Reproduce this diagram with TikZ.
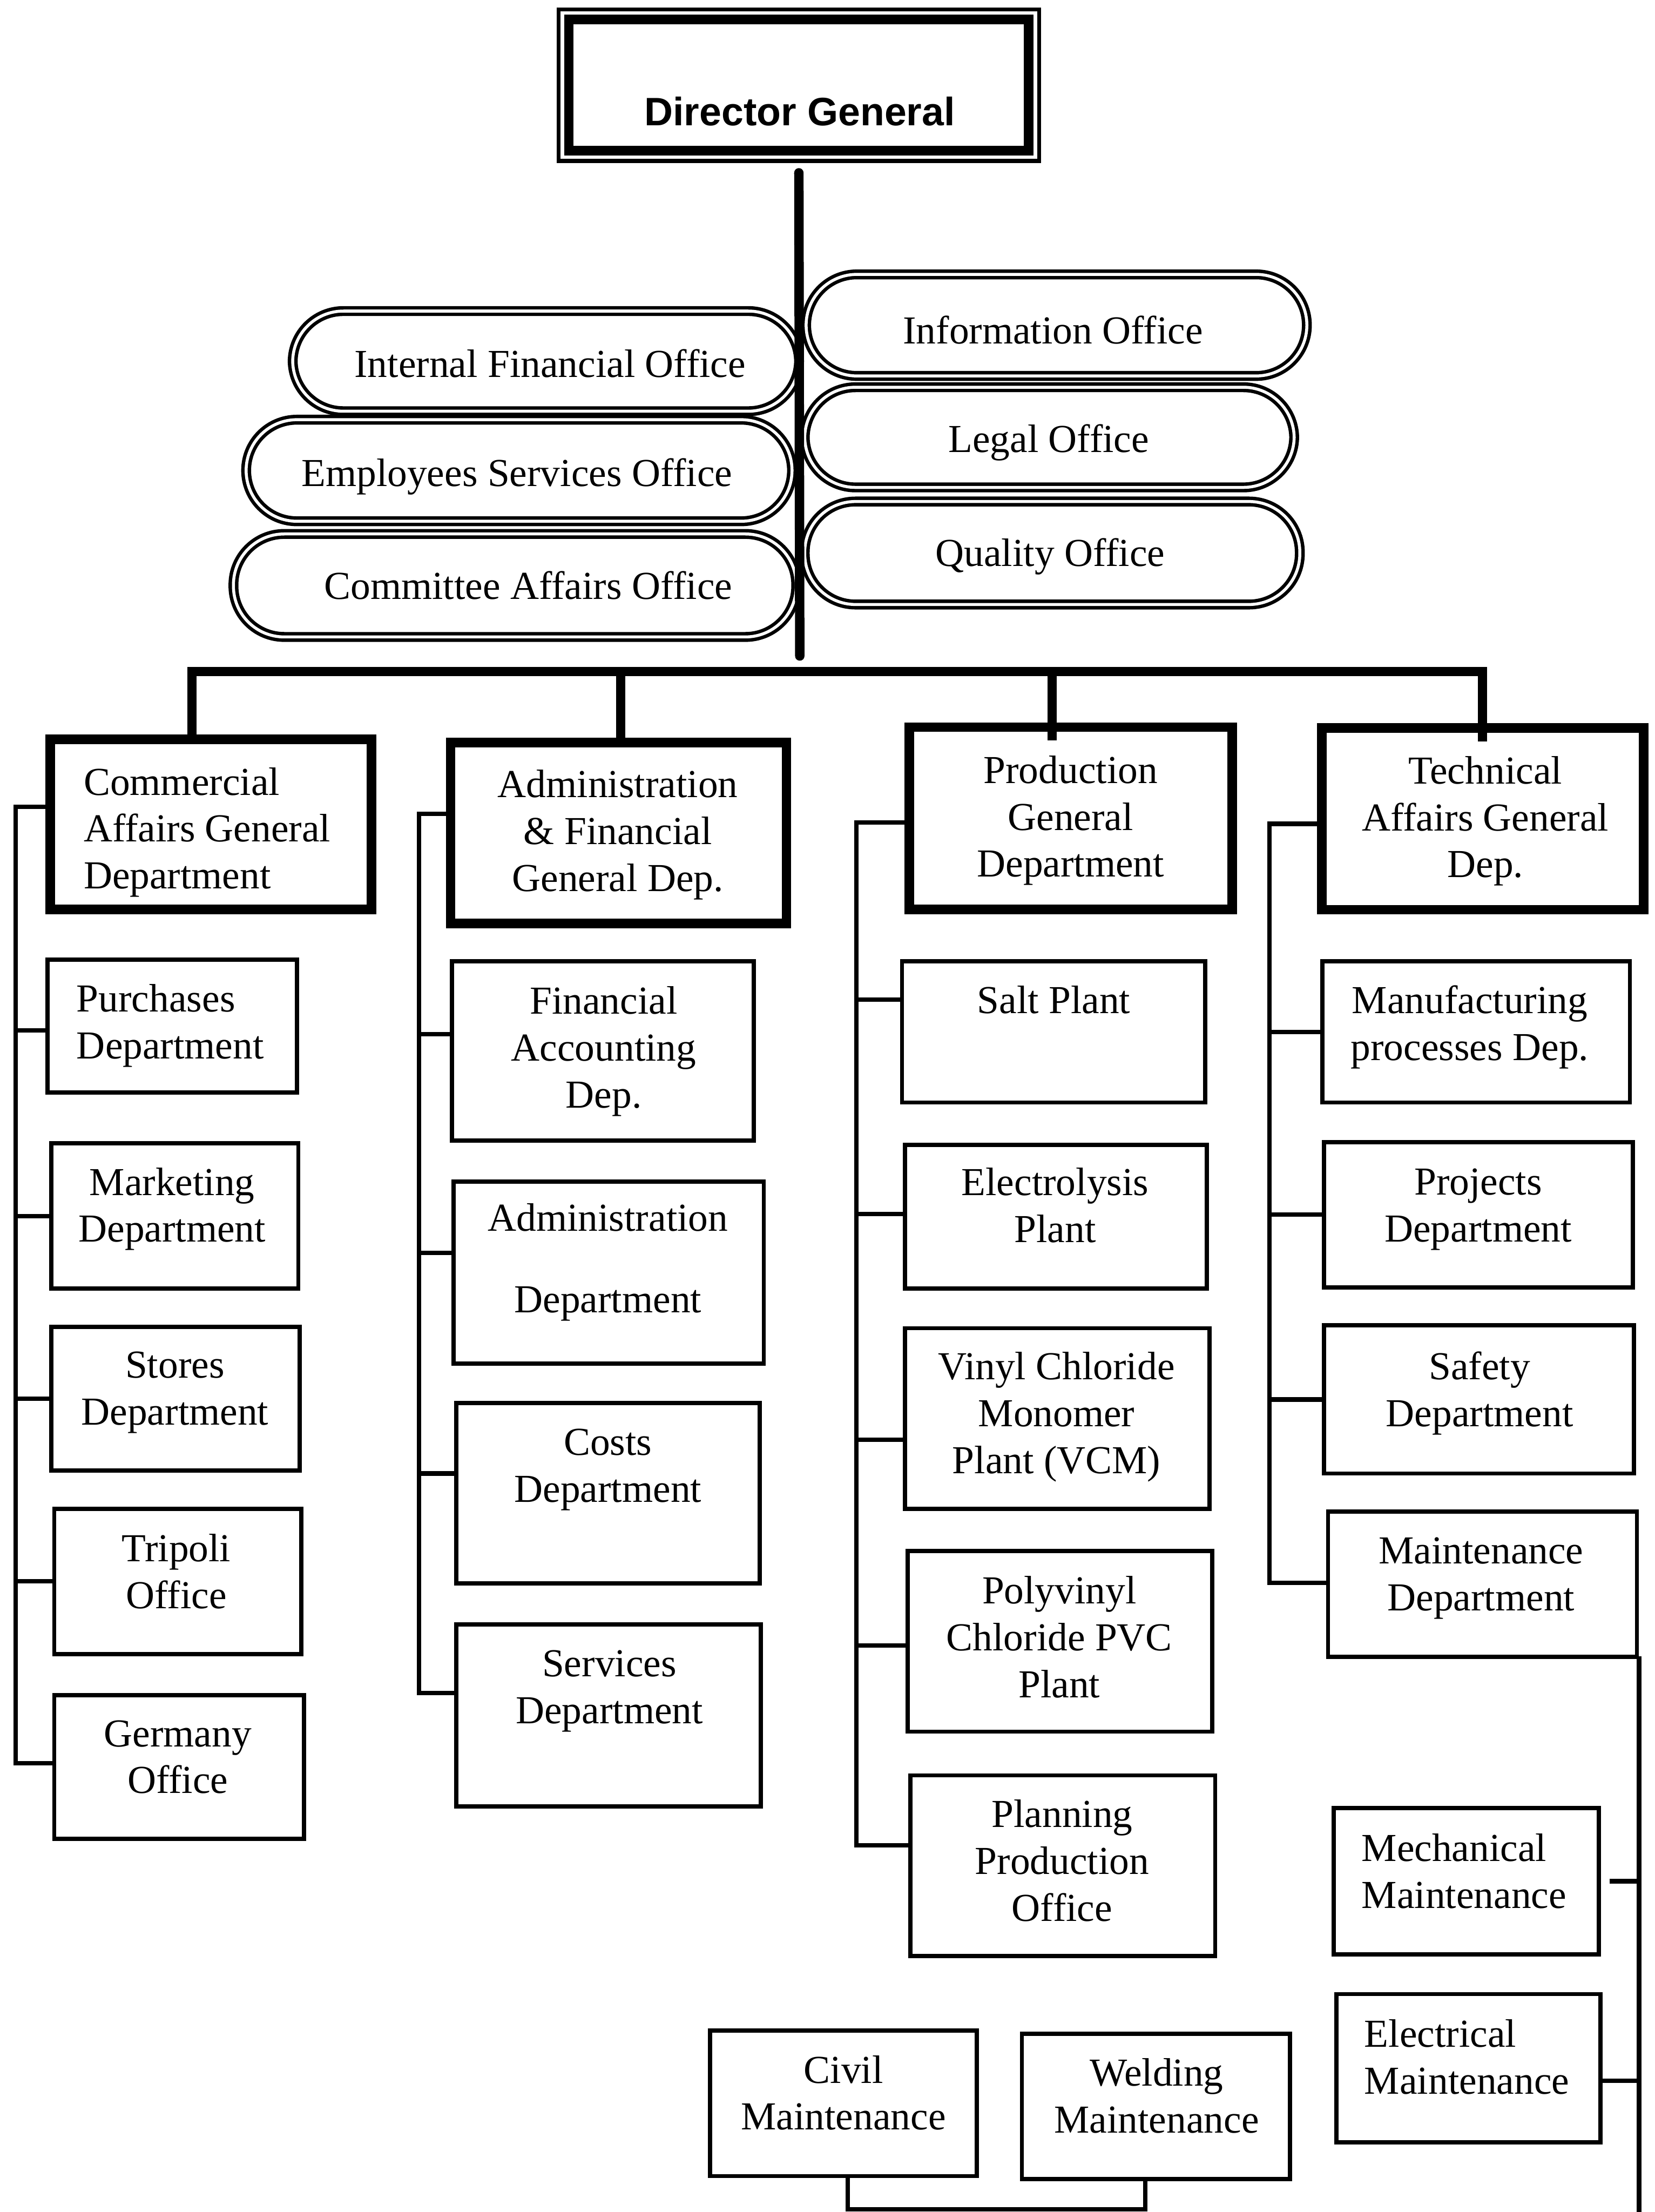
\documentclass[tikz,border=0pt]{standalone}
\usepackage{fontspec}
\setmainfont{Liberation Serif}
\newfontfamily\dgfont{Liberation Sans}
\usetikzlibrary{calc}

% boxes given by their outer extents (x1,y1) (x2,y2); y grows downwards
\newcommand\subbx[5]{\node[subbox, minimum width={(#4-#2-3)*0.02cm}, minimum height={(#5-#3-3)*0.02cm}] (#1) at ({(#2+#4)/2},{(#3+#5)/2}) {};}
\newcommand\deptbx[5]{\node[deptbox, minimum width={(#4-#2-6.9)*0.02cm}, minimum height={(#5-#3-6.9)*0.02cm}] (#1) at ({(#2+#4)/2},{(#3+#5)/2}) {};}
\newcommand\ovalbx[5]{\node[oval, minimum width={(#4-#2-7)*0.02cm}, minimum height={(#5-#3-7)*0.02cm}] (#1) at ({(#2+#4)/2},{(#3+#5)/2}) {};}
% short connector from a trunk to the west side of a box, shifted up by #3
\newcommand\tick[3]{\coordinate (#2-in) at ([yshift=#3]#2.west);
  \draw[conn] (#1 |- #2-in) -- (#2-in);}

\begin{document}
\begin{tikzpicture}[x=0.02cm, y=-0.02cm,
  txt/.style={font=\fontsize{16}{18.9}\selectfont, align=center, inner sep=0pt},
  ltxt/.style={txt, align=left, anchor=west},
  subbox/.style={draw, line width=1.7pt, inner sep=0pt},
  deptbox/.style={draw, line width=3.9pt, inner sep=0pt},
  oval/.style={draw, fill=white, line width=1.4pt, double=white, double distance=1.2pt, rounded corners=0.72cm, inner sep=0pt},
  conn/.style={line width=1.8pt},
  bus/.style={line width=3.8pt},
]
\useasboundingbox (0,0) rectangle (1173,1568);

% ---------- Director General ----------
\node[draw, line width=1.6pt, inner sep=0pt, minimum width={(736.6-396.1)*0.02cm}, minimum height={(114.1-6.6)*0.02cm}] (dgout) at ({(396.1+736.6)/2},{(6.6+114.1)/2}) {};
\node[draw, line width=3.9pt, inner sep=0pt, minimum width={(729.4-403.3)*0.02cm}, minimum height={(106.9-13.8)*0.02cm}] (dg) at ({(403.3+729.4)/2},{(13.8+106.9)/2}) {};
\node[inner sep=0pt, font=\dgfont\bfseries\fontsize{16}{19}\selectfont] (dg-t) at (567,79) {Director General};

% ---------- staff offices ----------
\ovalbx{info}{568}{191}{930}{270}
\ovalbx{legal}{567}{271}{921}{349}
\ovalbx{quality}{567}{352}{925}{432}
\ovalbx{ifo}{204}{217}{570}{295}
\ovalbx{eso}{171}{294}{565}{373}
\ovalbx{cao}{162}{375}{568}{455}
\node[txt] (info-t) at (746.5,234) {Information Office};
\node[txt] (legal-t) at (743.5,313.7) {Legal Office};
\node[txt] (quality-t) at (744.5,394.7) {Quality Office};
\node[txt] (ifo-t) at (390,257.7) {Internal Financial Office};
\node[txt] (eso-t) at (366.5,337.7) {Employees Services Office};
\node[txt] (cao-t) at (374.5,415) {Committee Affairs Office};

% central line from the Director General
\coordinate (hub) at (567,465);
\draw[bus, line cap=round] ([yshift=-0.14cm]dgout.south) -- (hub);

% ---------- general departments ----------
\deptbx{comm}{32.3}{520.7}{266.8}{648.2}
\deptbx{admin}{316}{523}{561}{658}
\deptbx{prod}{641.2}{512}{877}{648}
\deptbx{tech}{933.7}{512.6}{1168.7}{648.3}
\node[ltxt] (comm-t) at (59,590) {Commercial\\Affairs General\\Department};
\node[txt] (admin-t) at (438,591.7) {Administration\\\& Financial\\General Dep.};
\node[txt] (prod-t) at (759,581.7) {Production\\General\\Department};
\node[txt] (tech-t) at (1053,582) {Technical\\Affairs General\\Dep.};

% bus to the general departments
\coordinate (busL) at (136,476);
\coordinate (busA) at (440,476);
\coordinate (busP) at (746,476);
\coordinate (busR) at (1051,476);
\coordinate (prod-d) at ([yshift=-0.26cm]prod.north);
\coordinate (tech-d) at ([yshift=-0.26cm]tech.north);
\draw[bus] (busL |- comm.north) -- (busL) -- (busR) -- (busR |- tech-d);
\draw[bus] (busA) -- (busA |- admin.north);
\draw[bus] (busP) -- (busP |- prod-d);

% ---------- Commercial Affairs ----------
\subbx{purch}{32.3}{678.8}{212}{776}
\subbx{market}{35}{809}{213}{915}
\subbx{stores}{35}{939}{214}{1044}
\subbx{tripoli}{37}{1068}{215}{1174}
\subbx{germany}{37}{1200}{217}{1305}
\node[ltxt] (purch-t) at (54,727) {Purchases\\Department};
\node[txt] (market-t) at (122,857) {Marketing\\Department};
\node[txt] (stores-t) at (124,987) {Stores\\Department};
\node[txt] (tripoli-t) at (125,1114) {Tripoli\\Office};
\node[txt] (germany-t) at (126,1245.5) {Germany\\Office};
\coordinate (ctop) at (11,572);
\coordinate (cbot) at (11,1250);
\draw[conn] (comm.west |- ctop) -- (ctop) -- (cbot) -- (germany.west |- cbot);
\tick{ctop}{purch}{-0.06cm}
\tick{ctop}{market}{0cm}
\tick{ctop}{stores}{0cm}
\tick{ctop}{tripoli}{0cm}

% ---------- Administration & Financial ----------
\subbx{finacc}{319}{680}{536}{810}
\subbx{admdep}{320}{836}{543}{968}
\subbx{costs}{322}{993}{540}{1124}
\subbx{services}{322}{1150}{541}{1282}
\node[txt] (finacc-t) at (428,745.2) {Financial\\Accounting\\Dep.};
\node[txt] (admdep-t) at (431,894.7) {Administration\\[14pt]Department};
\node[txt] (costs-t) at (431,1041.7) {Costs\\Department};
\node[txt] (services-t) at (432,1198.7) {Services\\Department};
\coordinate (atop) at (297,577);
\coordinate (abot) at (297,1200);
\draw[conn] (admin.west |- atop) -- (atop) -- (abot) -- (services.west |- abot);
\tick{atop}{finacc}{0.24cm}
\tick{atop}{admdep}{0.28cm}
\tick{atop}{costs}{0.28cm}

% ---------- Production ----------
\subbx{salt}{638}{680}{856}{783}
\subbx{electro}{640}{810}{857}{915}
\subbx{vcm}{640}{940}{859}{1071}
\subbx{pvc}{642}{1098}{861}{1229}
\subbx{planning}{644}{1257}{863}{1388}
\node[txt] (salt-t) at (747,708.6) {Salt Plant};
\node[txt] (electro-t) at (748,854.5) {Electrolysis\\Plant};
\node[txt] (vcm-t) at (749,1004.5) {Vinyl Chloride\\Monomer\\Plant (VCM)};
\node[txt] (pvc-t) at (751,1160.5) {Polyvinyl\\Chloride PVC\\Plant};
\node[txt] (planning-t) at (753,1319) {Planning\\Production\\Office};
\coordinate (ptop) at (607,583);
\coordinate (pbot) at (607,1308);
\draw[conn] (prod.west |- ptop) -- (ptop) -- (pbot) -- (planning.west |- pbot);
\tick{ptop}{salt}{0.46cm}
\tick{ptop}{electro}{0.04cm}
\tick{ptop}{vcm}{-0.30cm}
\tick{ptop}{pvc}{-0.06cm}

% ---------- Technical Affairs ----------
\subbx{manuf}{936}{680}{1157}{783}
\subbx{projects}{937}{808}{1159}{914}
\subbx{safety}{937}{938}{1160}{1046}
\subbx{maint}{940}{1070}{1162}{1176}
\node[txt] (manuf-t) at (1042,728.2) {Manufacturing\\processes Dep.};
\node[txt] (projects-t) at (1048,857.2) {Projects\\Department};
\node[txt] (safety-t) at (1049,987.7) {Safety\\Department};
\node[txt] (maint-t) at (1050,1118.7) {Maintenance\\Department};
\coordinate (ttop) at (900,584);
\coordinate (tbot) at (900,1122);
\draw[conn] (tech.west |- ttop) -- (ttop) -- (tbot) -- (maint.west |- tbot);
\tick{ttop}{manuf}{0cm}
\tick{ttop}{projects}{0cm}
\tick{ttop}{safety}{0cm}

% ---------- Maintenance sections ----------
\subbx{mech}{944}{1280}{1135}{1387}
\subbx{elec}{946}{1412}{1136}{1520}
\subbx{civil}{502}{1438}{694}{1544}
\subbx{weld}{723}{1440}{916}{1546}
\node[ltxt] (mech-t) at (965,1326.5) {Mechanical\\Maintenance};
\node[ltxt] (elec-t) at (967,1458) {Electrical\\Maintenance};
\node[txt] (civil-t) at (598,1483.5) {Civil\\Maintenance};
\node[txt] (weld-t) at (820,1485.5) {Welding\\Maintenance};

% line down the right side from the Maintenance Department
\coordinate (rbot) at (1162,1572);
\draw[conn] ([yshift=0.04cm]maint.south east) -- (maint.south east |- rbot);
\draw[conn] ([xshift=0.12cm]mech.east) -- (mech.east -| rbot);
\coordinate (elec-in) at ([yshift=-0.18cm]elec.east);
\draw[conn] ([xshift=-0.06cm]elec-in) -- (elec-in -| rbot);

% civil and welding joined along the bottom
\coordinate (cwb) at (0,1566);
\coordinate (civil-d) at ([xshift=0.06cm]civil.south);
\coordinate (weld-d) at ([xshift=-0.15cm]weld.south);
\draw[conn] (civil-d) -- (civil-d |- cwb) -- (weld-d |- cwb) -- (weld-d);

\end{tikzpicture}
\end{document}
